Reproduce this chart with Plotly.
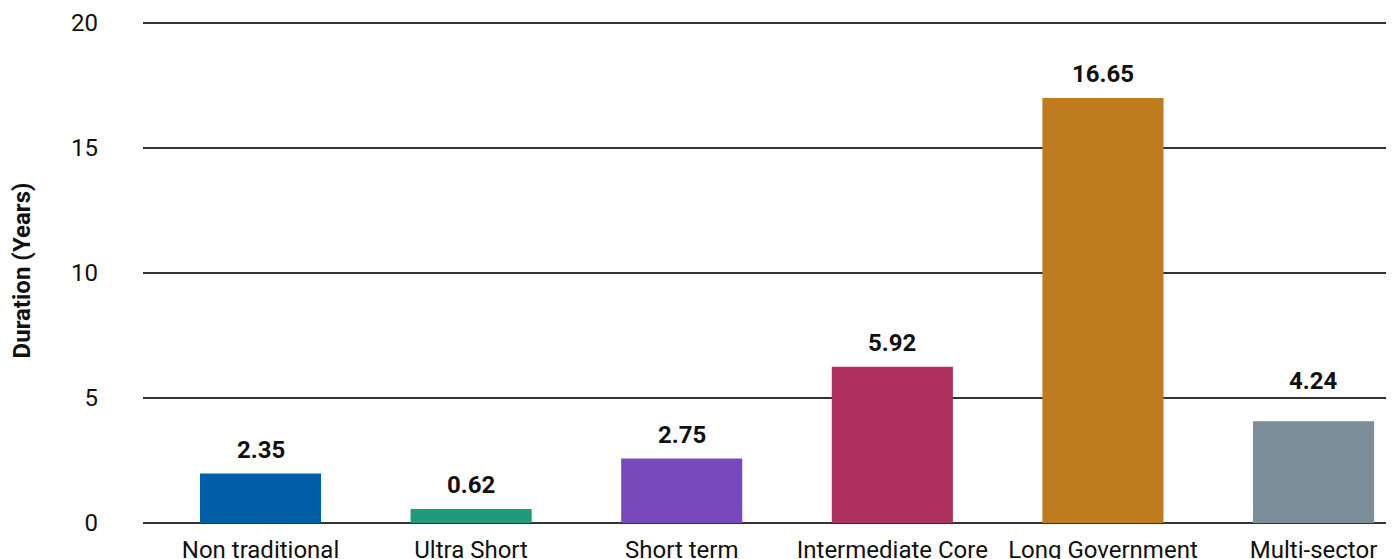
import plotly.graph_objects as go

categories = ["Non traditional", "Ultra Short", "Short term", "Intermediate Core",
              "Long Government", "Multi-sector"]
# Bar heights as drawn in the picture (years)
bar_heights = [1.98, 0.56, 2.58, 6.25, 17.0, 4.07]
# Value labels as printed above the bars
value_labels = ["2.35", "0.62", "2.75", "5.92", "16.65", "4.24"]
colors = ["#005EA6", "#219A7B", "#7849BA", "#AD305D", "#BE7C1F", "#7D8E9B"]
y_ticks = [0, 5, 10, 15, 20]

FONT = "Roboto, Arial, sans-serif"
LABEL_GAP = 8
EXTRA_GAP = {"Multi-sector": 16}  # this label sits higher in the original

fig = go.Figure()
fig.add_trace(go.Bar(
    x=categories, y=bar_heights, marker=dict(color=colors, line=dict(width=0)),
    width=0.575, hoverinfo="skip",
))

for c, h, t in zip(categories, bar_heights, value_labels):
    fig.add_annotation(x=c, y=h, text="<b>%s</b>" % t, showarrow=False,
                       yanchor="bottom", yshift=LABEL_GAP + EXTRA_GAP.get(c, 0),
                       font=dict(family=FONT, size=24, color="#111111"))

fig.update_layout(
    width=1386, height=551,
    margin=dict(l=135, r=0, t=10, b=36),
    paper_bgcolor="white", plot_bgcolor="white",
    showlegend=False,
    font=dict(family=FONT, size=24, color="#111111"),
    xaxis=dict(range=[-0.558, 5.382], showgrid=False, showline=False, zeroline=False,
               ticks="", ticklabelstandoff=10,
               tickfont=dict(size=24, color="#111111"), automargin=False),
    yaxis=dict(range=[0, 20.2], tickvals=y_ticks, showgrid=True, gridcolor="#333333",
               gridwidth=1.5, zeroline=True, zerolinecolor="#333333", zerolinewidth=1.5,
               showline=False, ticks="", ticklabelstandoff=44,
               tickfont=dict(size=24, color="#111111"), automargin=False,
               title=dict(text="<b>Duration (Years)</b>", standoff=36,
                          font=dict(size=24, color="#111111"))),
)

fig.write_html("out.html")
